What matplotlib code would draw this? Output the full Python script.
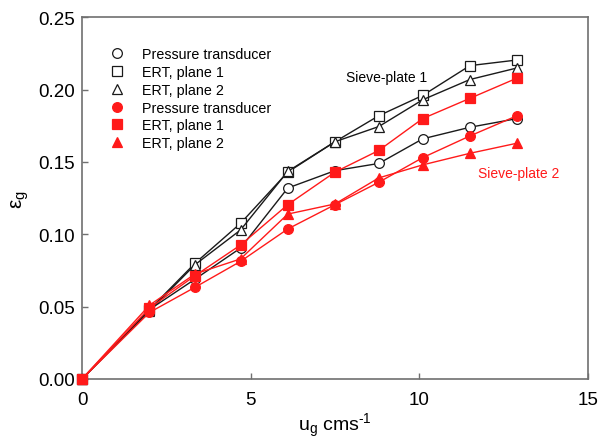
import matplotlib
matplotlib.use("Agg")
import matplotlib.pyplot as plt
from matplotlib.lines import Line2D

plt.rcParams['font.family'] = ['Liberation Sans', 'DejaVu Sans']
plt.rcParams['mathtext.fontset'] = 'custom'
plt.rcParams['mathtext.rm'] = 'Liberation Sans'
plt.rcParams['mathtext.it'] = 'Liberation Sans'

# data
ug = [0, 2.0, 3.35, 4.7, 6.1, 7.5, 8.8, 10.1, 11.5, 12.9]
sp1_pt = [0, 0.048, 0.069, 0.0905, 0.132, 0.144, 0.149, 0.166, 0.174, 0.180]
sp1_ert1 = [0, 0.048, 0.080, 0.1076, 0.143, 0.164, 0.182, 0.196, 0.2166, 0.2205]
sp1_ert2 = [0, 0.047, 0.079, 0.103, 0.1435, 0.164, 0.1745, 0.193, 0.207, 0.215]
sp2_pt = [0, 0.046, 0.0634, 0.0813, 0.1037, 0.1205, 0.136, 0.153, 0.168, 0.182]
sp2_ert1 = [0, 0.049, 0.0714, 0.0926, 0.1205, 0.143, 0.158, 0.180, 0.194, 0.208]
sp2_ert2 = [0, 0.051, 0.0726, 0.083, 0.114, 0.121, 0.139, 0.148, 0.156, 0.163]
labels = ["Pressure transducer", "ERT, plane 1", "ERT, plane 2"]

fig = plt.figure(figsize=(6.07, 4.39), dpi=100)
ax = fig.add_axes([82/607, 1-380/439, 506/607, (380-18.3)/439])

black = '#1a1a1a'
red = '#ff1a1a'
ms = 7
for ys, m in zip([sp1_pt, sp1_ert1, sp1_ert2], ['o', 's', '^']):
    ax.plot(ug, ys, color=black, lw=1.0, marker=m, ms=ms, mfc='white',
            mec=black, mew=0.9, clip_on=False, zorder=3)
for ys, m in zip([sp2_pt, sp2_ert1, sp2_ert2], ['o', 's', '^']):
    ax.plot(ug, ys, color=red, lw=1.0, marker=m, ms=ms, mfc=red,
            mec=red, mew=0.9, clip_on=False, zorder=4)

handles = []
for m in ['o', 's', '^']:
    handles.append(Line2D([], [], ls='none', marker=m, ms=ms, mfc='white', mec=black, mew=0.9))
for m in ['o', 's', '^']:
    handles.append(Line2D([], [], ls='none', marker=m, ms=ms, mfc=red, mec=red, mew=0.9))
ax.legend(handles, labels + labels, loc='upper left', bbox_to_anchor=(0.055, 0.918),
          frameon=False, fontsize=10.3, handlelength=1.0, handletextpad=1.23,
          labelspacing=0.27, borderpad=0, borderaxespad=0)

ax.text(7.83, 0.209, "Sieve-plate 1", fontsize=10, color='black', va='center', ha='left')
ax.text(11.74, 0.1424, "Sieve-plate 2", fontsize=10, color=red, va='center', ha='left')

ax.set_xlim(0, 15)
ax.set_ylim(0, 0.25)
ax.set_xticks([0, 5, 10, 15])
ax.set_yticks([0, 0.05, 0.10, 0.15, 0.20, 0.25])
ax.set_yticklabels(["0.00", "0.05", "0.10", "0.15", "0.20", "0.25"])
spc = '#707070'
for s in ax.spines.values():
    s.set_color(spc)
    s.set_linewidth(1.2)
ax.tick_params(direction='in', length=4, width=1.0, color=spc, labelsize=13.5)
ax.tick_params(axis='x', pad=9)
ax.tick_params(axis='y', pad=5)
ax.set_xlabel("u$_\\mathregular{g}$ cms$^\\mathregular{\\text{-1}}$", fontsize=14, labelpad=2)
ax.set_ylabel("ε$_\\mathregular{g}$", fontsize=15, labelpad=5)

fig.savefig("out.png", dpi=100)
